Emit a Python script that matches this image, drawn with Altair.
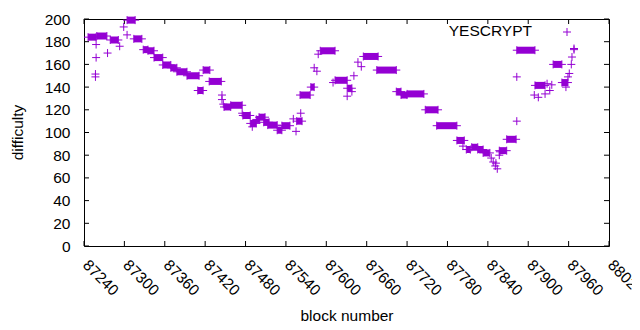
import altair as alt
import pandas as pd

COLOR = "#9400D3"
FONT = "Liberation Sans"

# runs of constant difficulty: first block, last block, difficulty
seg_start = [87246, 87259, 87279, 87304, 87314, 87328, 87335, 87344, 87357, 87369,
             87378, 87393, 87409, 87417, 87426, 87448, 87458, 87476, 87487, 87496,
             87500, 87507, 87513, 87527, 87534, 87556, 87561, 87577, 87591, 87613,
             87631, 87655, 87675, 87704, 87711, 87720, 87747, 87764, 87794, 87808,
             87816, 87825, 87833, 87857, 87868, 87883, 87910, 87937, 87950]
seg_end = [87258, 87274, 87291, 87316, 87326, 87335, 87344, 87357, 87369, 87378,
           87393, 87411, 87417, 87427, 87444, 87458, 87475, 87487, 87496, 87501,
           87509, 87515, 87527, 87534, 87546, 87564, 87576, 87582, 87613, 87631,
           87638, 87677, 87704, 87711, 87720, 87745, 87766, 87794, 87805, 87814,
           87825, 87833, 87843, 87868, 87882, 87910, 87925, 87950, 87959]
seg_value = [184, 185, 181.5, 199, 182.5, 173, 172, 166, 159.5, 157,
             153.5, 150, 137, 155, 145, 122.5, 124, 115, 108, 111.5,
             113.5, 109, 106.5, 102, 106, 110, 133, 140, 172, 146,
             139, 167, 155, 136, 133, 134, 120, 106, 93, 85,
             87, 85, 82, 84, 94, 172.5, 141.5, 160, 144]

# single blocks between runs
pt_block = [87258, 87258, 87257, 87257, 87275, 87293, 87299, 87304,
            87445, 87445, 87447, 87475, 87490, 87551, 87555, 87562,
            87582, 87586, 87588, 87610, 87631, 87638, 87641, 87647, 87652,
            87803, 87845, 87848, 87851, 87852, 87854, 87857, 87858,
            87883, 87883, 87909, 87915, 87925, 87928, 87932, 87935,
            87956, 87959, 87961, 87964, 87965, 87968, 87968]
pt_value = [177.5, 166, 151.5, 149, 170, 176, 193, 186,
            133, 129, 125, 117, 105, 112, 101, 117,
            157, 154, 169, 144, 132, 136, 150, 162, 158,
            88, 77.5, 74, 70.5, 73, 68, 80, 83,
            110, 149, 133, 131, 134, 143, 137, 142,
            140, 149, 152, 160, 166.5, 173, 174]

x_ticks = [87240, 87300, 87360, 87420, 87480, 87540, 87600, 87660, 87720,
           87780, 87840, 87900, 87960, 88020]
y_ticks = [0, 20, 40, 60, 80, 100, 120, 140, 160, 180, 200]

W, H = 525, 227
TICK = 5

segs = pd.DataFrame({"start": seg_start, "end": seg_end, "value": seg_value})
ends = pd.DataFrame({"block": seg_start + seg_end, "value": seg_value + seg_value})
pts = pd.DataFrame({"block": pt_block, "value": pt_value})
allpts = pd.concat([ends, pts], ignore_index=True)
xt = pd.DataFrame({"t": x_ticks})
yt = pd.DataFrame({"t": y_ticks})

xscale = alt.Scale(domain=[87240, 88020], nice=False, zero=False)
yscale = alt.Scale(domain=[0, 200], nice=False)

xaxis = alt.Axis(values=x_ticks, format="d", labelAngle=45, labelAlign="left",
                 labelBaseline="middle", labelPadding=16, labelOffset=1,
                 ticks=False, domain=False, grid=False, title="block number",
                 titleY=69, titleBaseline="middle", labelFlush=False,
                 labelOverlap=False, labelFontSize=15.5, titleFontSize=15.5,
                 labelFont=FONT, titleFont=FONT, labelColor="black",
                 titleColor="black", titleFontWeight="normal")
yaxis = alt.Axis(values=y_ticks, ticks=False, domain=False, grid=False,
                 labelPadding=14, title="difficulty", titleX=-67, titleY=113,
                 titleBaseline="middle", titleAngle=-90, labelOverlap=False,
                 labelFontSize=15.5, titleFontSize=15.5, labelFont=FONT,
                 titleFont=FONT, labelColor="black", titleColor="black",
                 titleFontWeight="normal")

CROSS = "M-1,0H1M0,-1V1"

rules = alt.Chart(segs).mark_rule(strokeWidth=7, strokeCap="butt", color=COLOR).encode(
    x=alt.X("start:Q", scale=xscale, axis=xaxis),
    x2="end:Q",
    y=alt.Y("value:Q", scale=yscale, axis=yaxis),
)

crosses = alt.Chart(allpts).mark_point(shape=CROSS, filled=False, strokeWidth=1,
                                       size=64, color=COLOR, opacity=1).encode(
    x=alt.X("block:Q", scale=xscale, axis=xaxis),
    y=alt.Y("value:Q", scale=yscale, axis=yaxis),
)

bt = alt.Chart(xt).mark_rule(color="black", strokeWidth=1).encode(
    x=alt.X("t:Q", scale=xscale, axis=xaxis), y=alt.value(H), y2=alt.value(H - TICK))
tt = alt.Chart(xt).mark_rule(color="black", strokeWidth=1).encode(
    x=alt.X("t:Q", scale=xscale, axis=xaxis), y=alt.value(0), y2=alt.value(TICK))
lt = alt.Chart(yt).mark_rule(color="black", strokeWidth=1).encode(
    y=alt.Y("t:Q", scale=yscale, axis=yaxis), x=alt.value(0), x2=alt.value(TICK))
rt = alt.Chart(yt).mark_rule(color="black", strokeWidth=1).encode(
    y=alt.Y("t:Q", scale=yscale, axis=yaxis), x=alt.value(W - TICK), x2=alt.value(W))

key = pd.DataFrame({"label": ["YESCRYPT"]})
key_text = alt.Chart(key).mark_text(align="right", baseline="middle", fontSize=15.5,
                                    font=FONT, color="black").encode(
    text="label:N", x=alt.value(448), y=alt.value(12))
key_pt = alt.Chart(key).mark_point(shape=CROSS, filled=False, strokeWidth=1, size=64,
                                   color=COLOR, opacity=1).encode(
    x=alt.value(483), y=alt.value(13))

chart = alt.layer(bt, tt, lt, rt, rules, crosses, key_text, key_pt).properties(
    width=W, height=H,
    padding={"left": 76, "top": 11, "right": 23, "bottom": 76},
    autosize=alt.AutoSizeParams(type="none"),
    background="white",
).configure_view(stroke="black", strokeWidth=1)

chart.save("out.html", embed_options={"renderer": "svg", "actions": False})
